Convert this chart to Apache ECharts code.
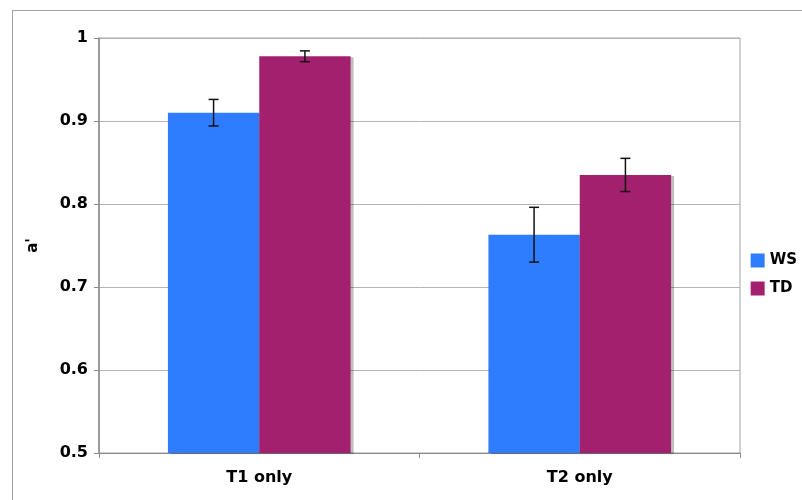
<!DOCTYPE html>
<html>
<head>
<meta charset="utf-8">
<script src="https://cdn.jsdelivr.net/npm/echarts@6/dist/echarts.min.js"></script>
<style>
html,body{margin:0;padding:0;background:#fff;}
#frame{position:absolute;left:12px;top:10px;width:790px;height:490px;border-left:1px solid #a0a0a0;border-top:1px solid #a0a0a0;box-sizing:border-box;}
#chart{position:absolute;left:0;top:0;width:802px;height:500px;}
</style>
</head>
<body>
<div id="frame"></div>
<div id="chart"></div>
<script>
var categories = ['T1 only', 'T2 only'];
var seriesNames = ['WS', 'TD'];
var wsValues = [0.910, 0.763];
var tdValues = [0.978, 0.835];
var wsErr = [0.016, 0.033];
var tdErr = [0.0065, 0.020];
var yTicks = [0.5, 0.6, 0.7, 0.8, 0.9, 1];

var colors = ['#2E7CFF', '#A3206E'];
var catGap = 0.43;

function errData(vals, errs) {
  return vals.map(function (v, i) { return [i, v - errs[i], v + errs[i]]; });
}
function makeErr(sign) {
  return function (params, api) {
    var ci = api.value(0);
    var lo = api.coord([ci, api.value(1)]);
    var hi = api.coord([ci, api.value(2)]);
    var catW = api.size([1, 0])[0];
    var bw = catW * (1 - catGap) / 2;
    var x = lo[0] + sign * bw / 2;
    var cap = 5;
    var st = {stroke: '#111', lineWidth: 1.5};
    return {type: 'group', children: [
      {type: 'line', shape: {x1: x, y1: lo[1], x2: x, y2: hi[1]}, style: st},
      {type: 'line', shape: {x1: x - cap, y1: lo[1], x2: x + cap, y2: lo[1]}, style: st},
      {type: 'line', shape: {x1: x - cap, y1: hi[1], x2: x + cap, y2: hi[1]}, style: st}
    ]};
  };
}

var chart = echarts.init(document.getElementById('chart'));
var fontFam = '"DejaVu Sans", Verdana, sans-serif';
chart.setOption({
  animation: false,
  color: colors,
  grid: {left: 99, right: 62, top: 38, bottom: 47, show: true, borderColor: '#a0a0a0', borderWidth: 1},
  legend: {
    data: seriesNames, orient: 'vertical', right: 0, top: 248,
    icon: 'rect', itemWidth: 14, itemHeight: 14, itemGap: 13,
    textStyle: {fontFamily: fontFam, fontWeight: 'bold', fontSize: 15, color: '#000'}
  },
  xAxis: {
    type: 'category', data: categories,
    axisLine: {lineStyle: {color: '#8a8a8a', width: 1}},
    axisTick: {show: true, length: 5, lineStyle: {color: '#8a8a8a'}},
    axisLabel: {fontFamily: fontFam, fontWeight: 'bold', fontSize: 16, color: '#000', margin: 17},
    splitLine: {show: false}
  },
  yAxis: {
    type: 'value', min: 0.5, max: 1, interval: 0.1,
    name: "a'", nameLocation: 'middle', nameGap: 58, nameRotate: 90,
    nameTextStyle: {fontFamily: fontFam, fontWeight: 'bold', fontSize: 15, color: '#000'},
    axisLine: {show: true, lineStyle: {color: '#8a8a8a', width: 1.5}},
    axisTick: {show: true, length: 5, lineStyle: {color: '#8a8a8a'}},
    axisLabel: {fontFamily: fontFam, fontWeight: 'bold', fontSize: 16, color: '#000', margin: 11,
      formatter: function (v) { var r = Math.round(v*10)/10; return yTicks.indexOf(r) >= 0 ? String(r) : ''; }},
    splitLine: {lineStyle: {color: '#b4b4b4', width: 1}}
  },
  series: [
    {name: 'WS', type: 'bar', data: wsValues, barGap: 0, barCategoryGap: '43%',
      itemStyle: {color: colors[0], shadowColor: 'rgba(0,0,0,0.25)', shadowOffsetX: 3, shadowOffsetY: 1, shadowBlur: 0}},
    {name: 'TD', type: 'bar', data: tdValues, barGap: 0, barCategoryGap: '43%',
      itemStyle: {color: colors[1], shadowColor: 'rgba(0,0,0,0.25)', shadowOffsetX: 3, shadowOffsetY: 1, shadowBlur: 0}},
    {name: 'WS err', type: 'custom', renderItem: makeErr(-1), data: errData(wsValues, wsErr), z: 10},
    {name: 'TD err', type: 'custom', renderItem: makeErr(1), data: errData(tdValues, tdErr), z: 10}
  ]
});
</script>
</body>
</html>
